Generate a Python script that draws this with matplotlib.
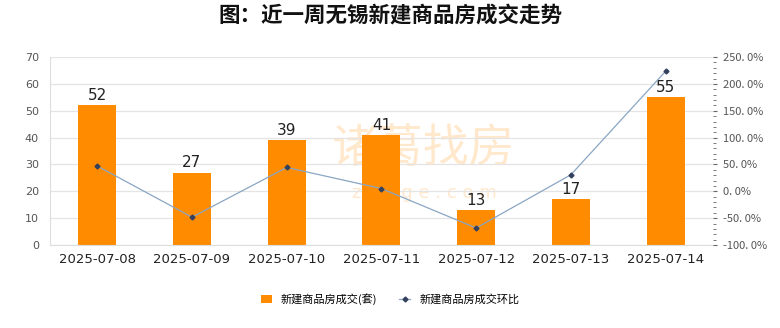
import matplotlib
matplotlib.use('Agg')
import matplotlib.pyplot as plt
from matplotlib.ticker import MultipleLocator, FuncFormatter
import numpy as np

plt.rcParams['font.family'] = ['Noto Sans CJK SC', 'DejaVu Sans']

dates = ['2025-07-08', '2025-07-09', '2025-07-10', '2025-07-11',
         '2025-07-12', '2025-07-13', '2025-07-14']
deals = [52, 27, 39, 41, 13, 17, 55]
# day-on-day change, percent
change = [47.1, -48.1, 44.4, 5.1, -68.3, 30.8, 223.5]

bar_color = '#ff8c00'
line_color = '#8aa6c4'

fig = plt.figure(figsize=(7.8, 3.28), dpi=100)
ax = fig.add_axes([0.064, 0.253, 0.85, 0.573])
x = np.arange(len(dates))

ax.bar(x, deals, width=0.4, color=bar_color, zorder=2,
       label='新建商品房成交(套)')
for xi, v in zip(x, deals):
    ax.text(xi, v + 0.8, str(v), ha='center', va='bottom', fontsize=11,
            family='DejaVu Sans', color='#222222', zorder=4)

ax.set_ylim(0, 70)
ax.set_xlim(-0.5, len(dates) - 0.5)
ax.yaxis.set_major_locator(MultipleLocator(10))
ax.grid(axis='y', color='#e4e4e4', linewidth=0.9, zorder=0)
ax.set_xticks(x)
ax.set_xticklabels(dates, fontsize=9.5, family='DejaVu Sans', color='#222222')
ax.tick_params(axis='x', length=0, pad=6)
ax.tick_params(axis='y', length=0, labelsize=8, labelcolor='#555555', pad=8)
for lab in ax.get_yticklabels():
    lab.set_family('DejaVu Sans')
for s in ['top', 'right']:
    ax.spines[s].set_visible(False)
ax.spines['left'].set_color('#dddddd')
ax.spines['bottom'].set_color('#dddddd')

ax2 = ax.twinx()
ax2.plot(x, change, color=line_color, linewidth=0.9, marker='D',
         markersize=2.5, markerfacecolor='#33415c', markeredgecolor='#33415c',
         zorder=3, label='新建商品房成交环比')
ax2.set_ylim(-100, 250)
ax2.yaxis.set_major_locator(MultipleLocator(50))
ax2.yaxis.set_minor_locator(MultipleLocator(10))
ax2.yaxis.set_major_formatter(
    FuncFormatter(lambda v, p: ('%.1f' % v).replace('.', '. ') + '%'))
ax2.tick_params(axis='y', which='major', length=3, color='#666666',
                labelsize=8, labelcolor='#555555', pad=4)
ax2.tick_params(axis='y', which='minor', length=2, color='#666666')
for s in ['top', 'left', 'bottom', 'right']:
    ax2.spines[s].set_visible(False)

# watermark
ax.text(3.45, 36, '诸葛找房', fontsize=33, color=bar_color, alpha=0.2,
        ha='center', va='center', zorder=1)
ax.text(3.45, 19.5, 'z h u g e . c o m', fontsize=13, color=bar_color,
        alpha=0.2, ha='center', va='center', family='DejaVu Sans', zorder=1)

fig.suptitle('图：近一周无锡新建商品房成交走势', fontsize=15.5, fontweight='bold',
             y=0.985, color='#111111')

h1, l1 = ax.get_legend_handles_labels()
h2, l2 = ax2.get_legend_handles_labels()
fig.legend(h1 + h2, l1 + l2, loc='lower center', bbox_to_anchor=(0.5, 0.04),
           ncol=2, frameon=False, fontsize=8, handlelength=1.0,
           handleheight=0.7, columnspacing=2.0)

fig.savefig('out.png', dpi=100, facecolor='white')
